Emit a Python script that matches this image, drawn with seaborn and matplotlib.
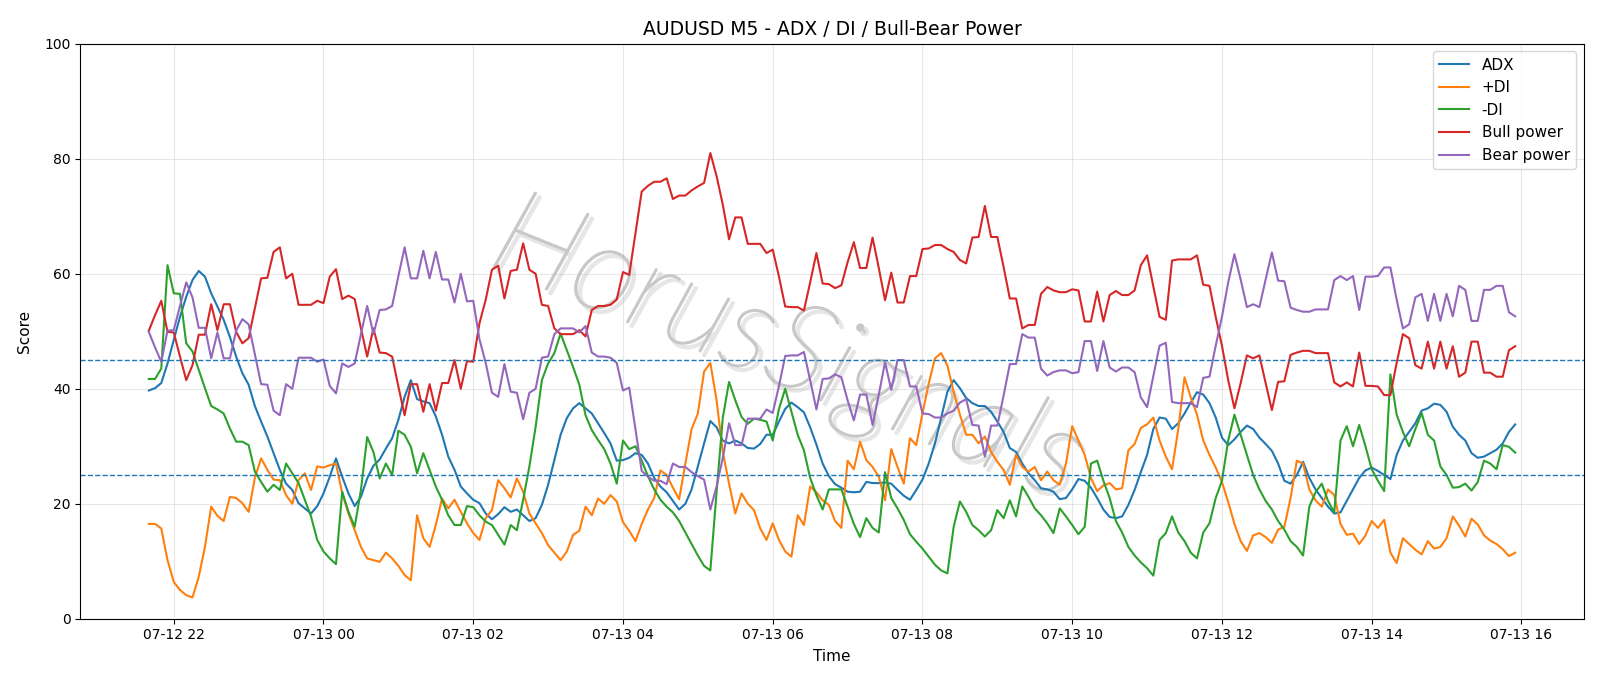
import matplotlib
matplotlib.use("Agg")
import matplotlib.pyplot as plt
import matplotlib.dates as mdates
import matplotlib.patheffects as pe
import seaborn as sns
import pandas as pd
import numpy as np

start_time = "2023-07-12 21:40"
n_points = 220

adx = [39.7, 40.1, 41.0, 44.4, 48.5, 52.5, 56.0, 58.9, 60.5, 59.5,
       56.6, 54.3, 52.0, 49.0, 45.6, 42.7, 40.7, 37.0, 34.3, 31.7,
       28.8, 25.9, 23.5, 22.4, 20.1, 19.2, 18.3, 19.6, 21.8, 24.7,
       27.9, 24.7, 21.8, 19.6, 21.2, 24.4, 26.6, 27.7, 29.6, 31.4,
       34.6, 38.6, 41.5, 38.2, 37.8, 37.5, 35.2, 32.0, 28.2, 25.9,
       23.0, 21.8, 20.7, 20.1, 18.3, 17.3, 18.2, 19.4, 18.6, 19.0,
       18.0, 17.0, 17.5, 19.8, 23.3, 27.6, 32.0, 34.9, 36.6, 37.5,
       36.6, 35.7, 34.0, 32.3, 30.5, 27.5, 27.6, 28.0, 28.8, 28.5,
       27.0, 24.5, 23.0, 22.0, 20.5, 19.0, 20.0, 22.5, 26.5, 30.5,
       34.4, 33.3, 31.0, 30.5, 31.0, 30.5, 29.7, 29.6, 30.4, 32.0,
       32.0, 34.3, 36.5, 37.6, 36.8, 35.9, 33.3, 30.3, 27.0, 24.8,
       23.4, 22.8, 22.1, 22.0, 22.1, 23.8, 23.6, 23.6, 23.7, 23.5,
       22.4, 21.4, 20.7, 22.4, 24.2, 27.0, 30.5, 35.0, 39.5, 41.5,
       40.1, 38.4, 37.5, 37.0, 37.0, 36.0, 34.3, 32.5, 29.7, 29.0,
       27.0, 25.3, 24.1, 22.7, 22.5, 22.1, 20.8, 21.0, 22.5, 24.3,
       24.0, 22.8, 21.0, 19.0, 17.7, 17.5, 17.8, 19.8, 22.4, 25.5,
       28.5, 33.0, 35.0, 34.8, 33.0, 34.0, 35.7, 37.6, 39.4, 39.0,
       37.5, 35.0, 31.5, 30.2, 31.2, 32.5, 33.6, 33.0, 31.5, 30.4,
       29.2, 27.0, 24.0, 23.5, 25.0, 27.3, 24.5, 22.5, 21.0, 19.5,
       18.3, 18.5, 20.5, 22.5, 24.5, 25.8, 26.3, 25.7, 25.0, 24.3,
       28.5, 31.0, 32.5, 34.0, 36.2, 36.6, 37.4, 37.2, 36.0, 33.4,
       32.0, 31.0, 28.8, 28.0, 28.2, 28.8, 29.4, 30.5, 32.5, 33.8]

plus_di = [16.5, 16.5, 15.7, 10.2, 6.4, 5.0, 4.1, 3.7, 7.3, 12.5,
           19.5, 17.9, 17.0, 21.2, 21.0, 20.1, 18.6, 24.5, 27.9, 25.9,
           24.2, 24.1, 21.5, 20.0, 24.1, 25.3, 22.4, 26.5, 26.3, 26.7,
           27.0, 21.8, 18.3, 15.4, 12.5, 10.5, 10.2, 9.9, 11.5, 10.5,
           9.2, 7.6, 6.7, 18.0, 14.0, 12.5, 16.3, 20.9, 19.2, 20.7,
           18.6, 16.6, 14.9, 13.7, 17.5, 18.9, 24.1, 22.7, 21.1, 24.4,
           22.1, 18.3, 16.6, 14.9, 12.8, 11.5, 10.2, 11.7, 14.6, 15.3,
           19.5, 18.0, 20.9, 20.0, 21.5, 20.4, 16.8, 15.3, 13.5, 16.5,
           19.0, 21.0, 25.8, 25.0, 22.8, 20.8, 27.0, 33.0, 35.7, 43.0,
           44.5, 38.0, 29.0, 23.5, 18.3, 21.8, 20.0, 18.9, 15.7, 13.7,
           16.6, 13.7, 11.7, 10.8, 18.0, 16.3, 23.0, 22.0, 20.6, 19.8,
           17.0, 15.8, 27.5, 26.0, 30.8, 27.6, 26.4, 24.7, 20.6, 29.5,
           26.4, 23.5, 31.4, 30.2, 35.7, 40.9, 45.3, 46.2, 44.0, 39.5,
           35.5, 32.0, 32.0, 30.5, 31.7, 29.0, 27.3, 25.9, 23.3, 28.5,
           26.4, 25.6, 26.4, 24.1, 25.6, 24.1, 23.3, 27.0, 33.5, 31.0,
           28.5, 24.5, 22.2, 23.2, 23.6, 22.5, 22.7, 29.3, 30.4, 33.2,
           33.8, 35.0, 31.0, 28.2, 26.0, 33.0, 42.0, 38.5, 35.5, 31.0,
           28.5, 26.3, 23.8, 20.3, 16.5, 13.5, 11.8, 14.5, 14.9, 14.2,
           13.2, 15.5, 16.0, 21.0, 27.5, 27.0, 22.5, 20.6, 19.5, 22.5,
           21.5, 16.5, 14.6, 14.8, 13.0, 14.5, 17.0, 15.8, 17.2, 11.5,
           9.7, 14.0, 13.0, 12.0, 11.2, 13.5, 12.2, 12.5, 14.0, 17.8,
           16.2, 14.3, 17.4, 16.4, 14.5, 13.6, 13.0, 12.1, 10.9, 11.5]

minus_di = [41.7, 41.7, 43.5, 61.5, 56.6, 56.5, 47.9, 46.5, 43.3, 40.1,
            37.0, 36.4, 35.7, 33.1, 30.8, 30.8, 30.2, 25.6, 23.8, 22.1,
            23.3, 22.4, 27.0, 25.3, 23.6, 20.7, 17.8, 13.7, 11.7, 10.5,
            9.5, 22.1, 18.6, 16.0, 22.4, 31.6, 29.0, 24.4, 27.0, 25.0,
            32.7, 32.0, 29.9, 25.3, 28.8, 25.9, 23.0, 20.7, 18.0, 16.3,
            16.3, 19.6, 19.4, 18.0, 16.9, 16.3, 14.6, 12.9, 16.3, 15.4,
            20.7, 26.5, 33.4, 41.5, 44.4, 46.2, 49.6, 46.7, 43.8, 40.7,
            35.4, 32.8, 31.1, 29.5, 27.0, 23.5, 31.0, 29.5, 30.0, 27.5,
            24.8, 22.5, 20.7, 19.5, 18.5, 17.0, 15.0, 13.0, 11.0, 9.2,
            8.4, 22.0, 35.0, 41.2, 38.0, 35.1, 33.9, 34.8, 34.6, 34.3,
            31.0, 36.5, 40.0, 36.0, 32.0, 29.3, 24.5, 21.5, 19.0, 22.5,
            22.5, 22.5, 19.5, 16.5, 14.2, 17.5, 15.8, 15.0, 25.5, 21.0,
            19.2, 17.2, 14.7, 13.4, 12.2, 10.8, 9.4, 8.4, 7.9, 16.0,
            20.4, 18.6, 16.3, 15.4, 14.3, 15.4, 18.9, 17.5, 20.6, 17.8,
            23.0, 21.2, 19.2, 18.0, 16.6, 14.9, 19.2, 17.8, 16.3, 14.7,
            16.0, 27.0, 27.5, 24.0, 21.0, 17.0, 15.0, 12.5, 11.0, 9.8,
            8.8, 7.5, 13.7, 14.9, 17.8, 15.0, 13.5, 11.5, 10.5, 15.0,
            16.6, 21.0, 24.0, 31.0, 35.5, 32.0, 28.5, 25.0, 22.5, 20.5,
            19.0, 17.0, 15.5, 13.5, 12.5, 11.0, 19.5, 22.0, 23.5, 20.5,
            18.5, 31.0, 33.5, 30.0, 33.7, 30.0, 26.0, 24.0, 22.2, 42.5,
            35.5, 32.5, 30.0, 33.0, 35.8, 32.0, 31.0, 26.5, 25.0, 22.8,
            22.9, 23.5, 22.3, 23.8, 27.5, 27.0, 26.0, 30.2, 29.9, 28.9]

bull_power = [50.1, 52.8, 55.3, 49.9, 49.8, 45.6, 41.5, 44.1, 49.4, 49.4,
              54.7, 50.2, 54.7, 54.7, 49.9, 47.9, 48.8, 54.0, 59.2, 59.3,
              63.8, 64.6, 59.2, 60.0, 54.6, 54.6, 54.6, 55.3, 54.9, 59.5,
              60.8, 55.6, 56.2, 55.6, 50.5, 45.6, 50.5, 46.3, 46.2, 45.6,
              40.4, 35.4, 40.8, 40.8, 36.0, 40.8, 36.2, 41.0, 41.0, 45.0,
              40.0, 44.8, 44.7, 51.4, 55.5, 60.7, 61.4, 55.7, 60.5, 60.7,
              65.3, 60.7, 60.0, 54.6, 54.4, 50.5, 49.5, 49.5, 49.5, 50.2,
              49.1, 53.7, 54.4, 54.4, 54.6, 55.5, 60.3, 59.8, 67.0, 74.3,
              75.3, 76.0, 76.0, 76.6, 73.0, 73.6, 73.6, 74.5, 75.2, 75.8,
              81.0, 77.0, 72.0, 66.0, 69.8, 69.8, 65.2, 65.2, 65.2, 63.6,
              64.2, 59.5, 54.3, 54.2, 54.2, 53.6, 58.5, 63.6, 58.3, 58.2,
              57.5, 58.0, 62.0, 65.5, 61.0, 61.0, 66.3, 61.0, 55.4, 60.2,
              55.0, 55.0, 59.6, 59.6, 64.3, 64.4, 65.0, 65.0, 64.3, 63.8,
              62.4, 61.8, 66.3, 66.4, 71.8, 66.4, 66.4, 61.2, 55.7, 55.7,
              50.5, 51.1, 51.1, 56.5, 57.7, 57.1, 56.8, 56.8, 57.3, 57.1,
              51.7, 51.7, 56.9, 51.7, 56.3, 57.0, 56.3, 56.3, 57.1, 61.5,
              63.2, 57.8, 52.5, 52.0, 62.3, 62.5, 62.5, 62.5, 63.2, 58.1,
              57.9, 52.5, 47.5, 41.5, 36.6, 41.0, 45.8, 45.3, 45.8, 41.0,
              36.3, 41.2, 41.3, 45.9, 46.3, 46.6, 46.6, 46.2, 46.2, 46.2,
              41.1, 40.4, 41.1, 40.4, 46.3, 40.5, 40.5, 40.4, 38.9, 38.9,
              44.5, 49.5, 48.8, 44.1, 43.5, 48.2, 43.5, 48.2, 43.5, 47.4,
              42.1, 42.8, 48.2, 48.2, 42.8, 42.8, 42.1, 42.1, 46.7, 47.4]

bear_power = [49.9, 47.2, 44.7, 50.1, 50.2, 54.4, 58.5, 55.9, 50.6, 50.6,
              45.3, 49.8, 45.3, 45.3, 50.1, 52.1, 51.2, 46.0, 40.8, 40.7,
              36.2, 35.4, 40.8, 40.0, 45.4, 45.4, 45.4, 44.7, 45.1, 40.5,
              39.2, 44.4, 43.8, 44.4, 49.5, 54.4, 49.5, 53.7, 53.8, 54.4,
              59.6, 64.6, 59.2, 59.2, 64.0, 59.2, 63.8, 59.0, 59.0, 55.0,
              60.0, 55.2, 55.3, 48.6, 44.5, 39.3, 38.6, 44.3, 39.5, 39.3,
              34.7, 39.3, 40.0, 45.4, 45.6, 49.5, 50.5, 50.5, 50.5, 49.8,
              50.9, 46.3, 45.6, 45.6, 45.4, 44.5, 39.7, 40.2, 33.0, 25.7,
              24.7, 24.0, 24.0, 23.4, 27.0, 26.4, 26.4, 25.5, 24.8, 24.2,
              19.0, 23.0, 28.0, 34.0, 30.2, 30.2, 34.8, 34.8, 34.8, 36.4,
              35.8, 40.5, 45.7, 45.8, 45.8, 46.4, 41.5, 36.4, 41.7, 41.8,
              42.5, 42.0, 38.0, 34.5, 39.0, 39.0, 33.7, 39.0, 44.6, 39.8,
              45.0, 45.0, 40.4, 40.4, 35.7, 35.6, 35.0, 35.0, 35.7, 36.2,
              37.6, 38.2, 33.7, 33.6, 28.2, 33.6, 33.6, 38.8, 44.3, 44.3,
              49.5, 48.9, 48.9, 43.5, 42.3, 42.9, 43.2, 43.2, 42.7, 42.9,
              48.3, 48.3, 43.1, 48.3, 43.7, 43.0, 43.7, 43.7, 42.9, 38.5,
              36.8, 42.2, 47.5, 48.0, 37.7, 37.5, 37.5, 37.5, 36.8, 41.9,
              42.1, 47.5, 52.5, 58.5, 63.4, 59.0, 54.2, 54.7, 54.2, 59.0,
              63.7, 58.8, 58.7, 54.1, 53.7, 53.4, 53.4, 53.8, 53.8, 53.8,
              58.9, 59.6, 58.9, 59.6, 53.7, 59.5, 59.5, 59.6, 61.1, 61.1,
              55.5, 50.5, 51.2, 55.9, 56.5, 51.8, 56.5, 51.8, 56.5, 52.6,
              57.9, 57.2, 51.8, 51.8, 57.2, 57.2, 57.9, 57.9, 53.3, 52.6]

series_names = ["ADX", "+DI", "-DI", "Bull power", "Bear power"]
thresholds = [45, 25]

times = pd.date_range(start_time, periods=n_points, freq="5min")
df = pd.DataFrame({"Time": times, "ADX": adx, "+DI": plus_di, "-DI": minus_di,
                   "Bull power": bull_power, "Bear power": bear_power})
long = df.melt(id_vars="Time", var_name="series", value_name="Score")

fig = plt.figure(figsize=(16, 6.86), dpi=100)
ax = fig.add_axes([0.0503, 0.098, 0.9394, 0.8382])

palette = dict(zip(series_names, sns.color_palette("tab10", 5)))
sns.lineplot(data=long, x="Time", y="Score", hue="series", hue_order=series_names,
             palette=palette, linewidth=1.5, ax=ax)

for t in thresholds:
    ax.axhline(t, color="#1f77b4", linestyle="--", linewidth=1.0)

ax.set_ylim(0, 100)
ax.grid(True, color="#b0b0b0", alpha=0.3, linewidth=0.8)
ax.xaxis.set_major_locator(mdates.HourLocator(byhour=range(0, 24, 2)))
ax.xaxis.set_major_formatter(mdates.DateFormatter("%m-%d %H"))
ax.tick_params(labelsize=10)
ax.set_title("AUDUSD M5 - ADX / DI / Bull-Bear Power", fontsize=13.5)
ax.set_xlabel("Time", fontsize=11, labelpad=5)
ax.set_ylabel("Score", fontsize=11, labelpad=9)
ax.legend(loc="upper right", fontsize=11, title=None)

wm = ax.text(0.47, 0.465, "HorusSignals", transform=ax.transAxes, fontsize=88,
             family=["Lato", "DejaVu Sans"], color="#c8c8c8",
             style="italic", fontweight="light",
             rotation=-22, ha="center", va="center", zorder=0.5)
wm.set_path_effects([
    pe.Stroke(linewidth=2.2, foreground="#e6e6e6", offset=(3, -3)),
    pe.Stroke(linewidth=1.3, foreground="#c8c8c8"),
    pe.Normal(),
])

fig.savefig("out.png", dpi=100)
